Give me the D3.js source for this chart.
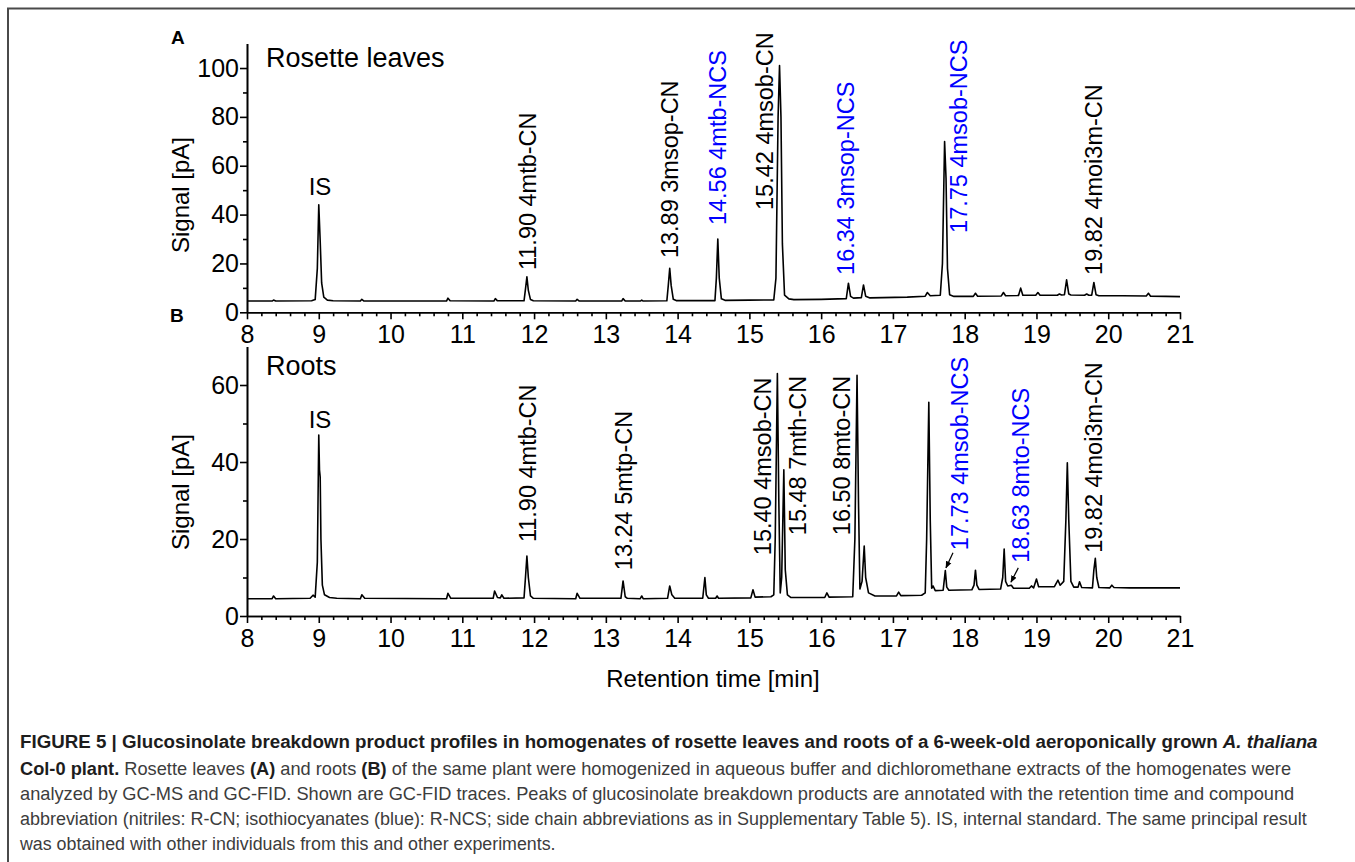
<!DOCTYPE html>
<html>
<head>
<meta charset="utf-8">
<script src="https://cdn.jsdelivr.net/npm/d3@7"></script>
<style>
  body { margin: 0; background: #fff; }
  svg { display: block; font-family: "Liberation Sans", Arial, sans-serif; }
</style>
</head>
<body>
<svg width="1355" height="862"></svg>
<script>
// Retention time axis (min)
const xTicks = [8, 9, 10, 11, 12, 13, 14, 15, 16, 17, 18, 19, 20, 21];
const yTicksA = [0, 20, 40, 60, 80, 100];
const yTicksB = [0, 20, 40, 60];

// GC-FID trace, rosette leaves: [time (min), signal (pA)]
const rosetteTrace = [
  [8.00,4.6],[8.35,4.6],[8.37,5.0],[8.40,4.6],[8.90,4.7],[8.95,5.2],[8.98,18],[9.00,44],[9.02,29],[9.04,12],
  [9.07,6.2],[9.12,5.0],[9.20,4.7],[9.58,4.6],[9.60,5.3],[9.63,4.6],[10.78,4.6],[10.80,5.8],[10.83,4.7],
  [11.44,4.6],[11.46,5.6],[11.49,4.7],[11.86,4.7],[11.88,9.5],[11.90,14.5],[11.92,9],[11.95,5.2],[11.99,4.7],
  [12.58,4.6],[12.60,5.3],[12.63,4.6],[13.22,4.6],[13.24,5.6],[13.27,4.6],[13.48,4.6],[13.50,5.0],[13.52,4.6],
  [13.85,4.7],[13.87,11],[13.89,18],[13.91,11],[13.94,5.3],[13.98,4.8],[14.52,4.8],[14.54,14],[14.56,30],
  [14.58,14],[14.61,5.5],[14.66,4.9],[15.00,5.0],[15.34,5.1],[15.37,14],[15.40,80],[15.42,101],[15.44,80],
  [15.46,28],[15.49,7],[15.55,5.5],[15.62,5.2],[16.00,5.3],[16.35,5.6],[16.38,11.9],[16.41,6.5],[16.45,5.8],
  [16.56,6.0],[16.59,11.2],[16.62,6.6],[16.68,5.9],[17.20,6.2],[17.45,6.6],[17.48,8.1],[17.52,6.8],[17.66,7.0],
  [17.69,20],[17.72,69.9],[17.74,55],[17.76,18],[17.79,7.2],[17.85,6.5],[18.12,6.5],[18.15,7.8],[18.18,6.6],
  [18.51,6.7],[18.54,8.1],[18.57,6.8],[18.75,6.9],[18.78,9.9],[18.81,7.0],[18.99,7.0],[19.02,8.1],[19.05,7.0],
  [19.29,7.0],[19.32,7.5],[19.35,7.1],[19.39,7.2],[19.42,13.3],[19.45,7.5],[19.48,7.1],[19.67,7.0],[19.70,7.5],
  [19.73,7.0],[19.77,7.0],[19.80,12.2],[19.83,7.2],[19.87,6.8],[20.20,6.8],[20.53,6.7],[20.56,7.8],[20.59,6.6],
  [20.80,6.5],[21.00,6.4]
];

// GC-FID trace, roots: [time (min), signal (pA)]
const rootsTrace = [
  [8.00,4.5],[8.35,4.5],[8.37,5.2],[8.40,4.5],[8.88,4.6],[8.92,5.4],[8.95,4.9],[8.98,14],[9.00,47],[9.01,38],
  [9.02,36],[9.03,20],[9.05,8],[9.08,5.5],[9.15,4.8],[9.25,4.6],[9.58,4.5],[9.60,5.5],[9.64,4.6],
  [10.78,4.5],[10.80,5.9],[10.84,4.6],[11.43,4.6],[11.45,6.5],[11.49,4.8],[11.53,4.7],[11.55,5.5],[11.58,4.6],
  [11.86,4.7],[11.88,10],[11.90,15.6],[11.92,10],[11.95,5.2],[11.99,4.6],[12.58,4.5],[12.60,5.9],[12.64,4.6],
  [13.21,4.6],[13.24,9.1],[13.27,5.0],[13.30,4.6],[13.48,4.5],[13.50,5.2],[13.52,4.5],[13.86,4.6],[13.89,7.8],
  [13.92,5.5],[13.96,4.6],[14.35,4.6],[14.38,10],[14.40,5.5],[14.43,4.6],[14.53,4.6],[14.55,5.2],[14.57,4.6],
  [15.02,4.7],[15.05,6.8],[15.08,4.9],[15.30,5.0],[15.34,5.5],[15.36,20],[15.39,63],[15.41,30],[15.43,6],
  [15.45,10],[15.48,38],[15.50,12],[15.53,5.5],[15.58,4.8],[16.05,4.8],[16.08,6.0],[16.11,4.9],[16.44,5.0],
  [16.47,20],[16.50,62.5],[16.52,30],[16.54,7],[16.57,9],[16.60,18.2],[16.62,10],[16.66,6],[16.75,5.2],
  [17.05,5.2],[17.08,6.2],[17.11,5.3],[17.40,5.4],[17.45,6.0],[17.47,20],[17.50,55.5],[17.52,25],[17.54,7.2],
  [17.56,7.8],[17.59,6.6],[17.70,6.7],[17.73,11.8],[17.75,7.5],[17.78,6.7],[18.10,6.8],[18.13,8],[18.15,11.9],
  [18.17,8],[18.20,6.9],[18.50,7.0],[18.53,10],[18.55,17.4],[18.57,9],[18.60,7.8],[18.65,8.0],[18.68,7.2],
  [18.90,7.2],[18.93,7.8],[18.96,7.3],[19.00,9.6],[19.03,7.6],[19.25,7.6],[19.30,9.3],[19.33,8.0],[19.38,9.0],
  [19.41,25],[19.43,39.8],[19.45,25],[19.48,9],[19.52,7.5],[19.58,7.5],[19.60,8.9],[19.63,7.4],[19.78,7.3],
  [19.80,12],[19.82,15],[19.84,10],[19.87,7.4],[20.02,7.3],[20.05,8.0],[20.08,7.4],[20.30,7.3],[20.60,7.3],
  [21.00,7.3]
];

// peak annotations: [label anchor time, anchor signal, text, isothiocyanate]
const rosetteLabels = [
  [11.908, 17.3, "11.90 4mtb-CN", false],
  [13.887, 22.2, "13.89 3msop-CN", false],
  [14.563, 35.7, "14.56 4mtb-NCS", true],
  [15.21, 41.9, "15.42 4msob-CN", false],
  [16.339, 15.3, "16.34 3msop-NCS", true],
  [17.92, 32.5, "17.75 4msob-NCS", true],
  [19.795, 15.3, "19.82 4moi3m-CN", false]
];
const rootsLabels = [
  [11.915, 19.2, "11.90 4mtb-CN", false],
  [13.246, 11.9, "13.24 5mtp-CN", false],
  [15.183, 15.8, "15.40 4msob-CN", false],
  [15.677, 21.0, "15.48 7mth-CN", false],
  [16.29, 21.0, "16.50 8mto-CN", false],
  [17.934, 17.1, "17.73 4msob-NCS", true],
  [18.784, 13.8, "18.63 8mto-NCS", true],
  [19.795, 16.4, "19.82 4moi3m-CN", false]
];
// arrows from label to small peak: [t0, v0, t1, v1]
const rootsArrows = [
  [17.837, 16.4, 17.739, 12.5],
  [18.747, 12.5, 18.645, 8.8]
];

const captionLines = [
  [["FIGURE 5 | Glucosinolate breakdown product profiles in homogenates of rosette leaves and roots of a 6-week-old aeroponically grown ", "b"], ["A. thaliana", "bi"]],
  [["Col-0 plant.", "b"], [" Rosette leaves ", ""], ["(A)", "b"], [" and roots ", ""], ["(B)", "b"], [" of the same plant were homogenized in aqueous buffer and dichloromethane extracts of the homogenates were", ""]],
  [["analyzed by GC-MS and GC-FID. Shown are GC-FID traces. Peaks of glucosinolate breakdown products are annotated with the retention time and compound", ""]],
  [["abbreviation (nitriles: R-CN; isothiocyanates (blue): R-NCS; side chain abbreviations as in Supplementary Table 5). IS, internal standard. The same principal result", ""]],
  [["was obtained with other individuals from this and other experiments.", ""]]
];
const captionWidths = [1298, 1272, 1275, 1288, 536];

const svg = d3.select("svg");
const blue = "#0000ff";

// page frame
svg.append("path")
  .attr("d", "M8,870V8.5H1360")
  .attr("fill", "none")
  .attr("stroke", "#4a4a4a")
  .attr("stroke-width", 2);

const x = d3.scaleLinear().domain([8, 21]).range([247, 1180]);
const minorX = d3.range(80, 211, 2).filter(d => d % 10 !== 0).map(d => d / 10);

function drawPanel(trace, yScale, yTicks, yMinor, labels, title, titleY, isY, yTitleY) {
  const g = svg.append("g");

  const line = d3.line().x(d => x(d[0])).y(d => yScale(d[1]));
  g.append("path")
    .datum(trace)
    .attr("d", line)
    .attr("fill", "none")
    .attr("stroke", "#000")
    .attr("stroke-width", 1.6)
    .attr("stroke-linejoin", "round");

  const y0 = yScale(0);

  // x axis
  g.append("g").attr("transform", `translate(0,${y0})`)
    .call(d3.axisBottom(x).tickValues(minorX).tickSize(4).tickSizeOuter(0).tickFormat(""));
  g.append("g").attr("transform", `translate(0,${y0})`)
    .call(d3.axisBottom(x).tickValues(xTicks).tickSize(7).tickSizeOuter(0).tickPadding(6).tickFormat(d3.format("d")));

  // y axis
  g.append("g").attr("transform", "translate(247,0)")
    .call(d3.axisLeft(yScale).tickValues(yMinor).tickSize(4).tickSizeOuter(0).tickFormat(""));
  g.append("g").attr("transform", "translate(247,0)")
    .call(d3.axisLeft(yScale).tickValues(yTicks).tickSize(7).tickSizeOuter(0).tickPadding(1).tickFormat(d3.format("d")));

  g.selectAll(".domain, .tick line").attr("stroke", "#000").attr("stroke-width", 1.6);
  g.selectAll(".tick text").attr("font-size", 25).attr("font-family", "Liberation Sans, Arial, sans-serif").attr("fill", "#000");

  // panel title
  g.append("text").attr("x", 266).attr("y", titleY)
    .attr("font-size", 27).text(title);

  // IS label
  g.append("text").attr("x", x(9.017)).attr("y", yScale(isY))
    .attr("text-anchor", "middle").attr("font-size", 24).text("IS");

  // rotated peak annotations
  g.selectAll(".peak-label").data(labels).enter()
    .append("text")
    .attr("class", "peak-label")
    .attr("transform", d => `translate(${x(d[0])},${yScale(d[1])}) rotate(-90)`)
    .attr("dy", "0.35em")
    .attr("font-size", 23.5)
    .attr("fill", d => d[3] ? blue : "#000")
    .text(d => d[2]);

  // y axis title
  g.append("text")
    .attr("transform", `translate(189,${yTitleY}) rotate(-90)`)
    .attr("text-anchor", "middle")
    .attr("font-size", 24)
    .text("Signal [pA]");

  return g;
}

const yA = d3.scaleLinear().domain([0, 110]).range([312.3, 43.6]);
const yB = d3.scaleLinear().domain([0, 70]).range([616, 346.5]);

drawPanel(rosetteTrace, yA, yTicksA, [10, 30, 50, 70, 90], rosetteLabels, "Rosette leaves", 67, 48.0, 195);
const gB = drawPanel(rootsTrace, yB, yTicksB, [10, 30, 50], rootsLabels, "Roots", 375, 48.8, 492);

// arrows in roots panel
svg.append("defs").append("marker")
  .attr("id", "arrow").attr("viewBox", "0 0 10 10")
  .attr("refX", 9).attr("refY", 5)
  .attr("markerWidth", 6).attr("markerHeight", 6)
  .attr("orient", "auto")
  .append("path").attr("d", "M0,1L10,5L0,9Z").attr("fill", "#000");

gB.selectAll(".arrow").data(rootsArrows).enter()
  .append("line")
  .attr("x1", d => x(d[0])).attr("y1", d => yB(d[1]))
  .attr("x2", d => x(d[2])).attr("y2", d => yB(d[3]))
  .attr("stroke", "#000").attr("stroke-width", 1.2)
  .attr("marker-end", "url(#arrow)");

// panel letters
svg.append("text").attr("x", 171).attr("y", 44).attr("font-size", 19).attr("font-weight", "bold").text("A");
svg.append("text").attr("x", 170).attr("y", 322).attr("font-size", 19).attr("font-weight", "bold").text("B");

// x axis title
svg.append("text").attr("x", 713).attr("y", 687).attr("text-anchor", "middle")
  .attr("font-size", 24).text("Retention time [min]");

// caption
const capY = [748, 775, 800, 825, 850];
captionLines.forEach((parts, i) => {
  const t = svg.append("text")
    .attr("y", 0)
    .attr("font-family", "'Liberation Sans Narrow', 'Arial Narrow', 'Liberation Sans', sans-serif")
    .attr("font-size", 19);
  parts.forEach(p => {
    t.append("tspan")
      .attr("font-weight", p[1].includes("b") ? "bold" : "normal")
      .attr("font-style", p[1].includes("i") ? "italic" : "normal")
      .attr("fill", p[1].includes("b") ? "#1d1d1d" : "#3c3c3c")
      .text(p[0]);
  });
  const w = t.node().getComputedTextLength();
  t.attr("transform", `translate(20,${capY[i]}) scale(${captionWidths[i] / w},1)`);
});
</script>
</body>
</html>
